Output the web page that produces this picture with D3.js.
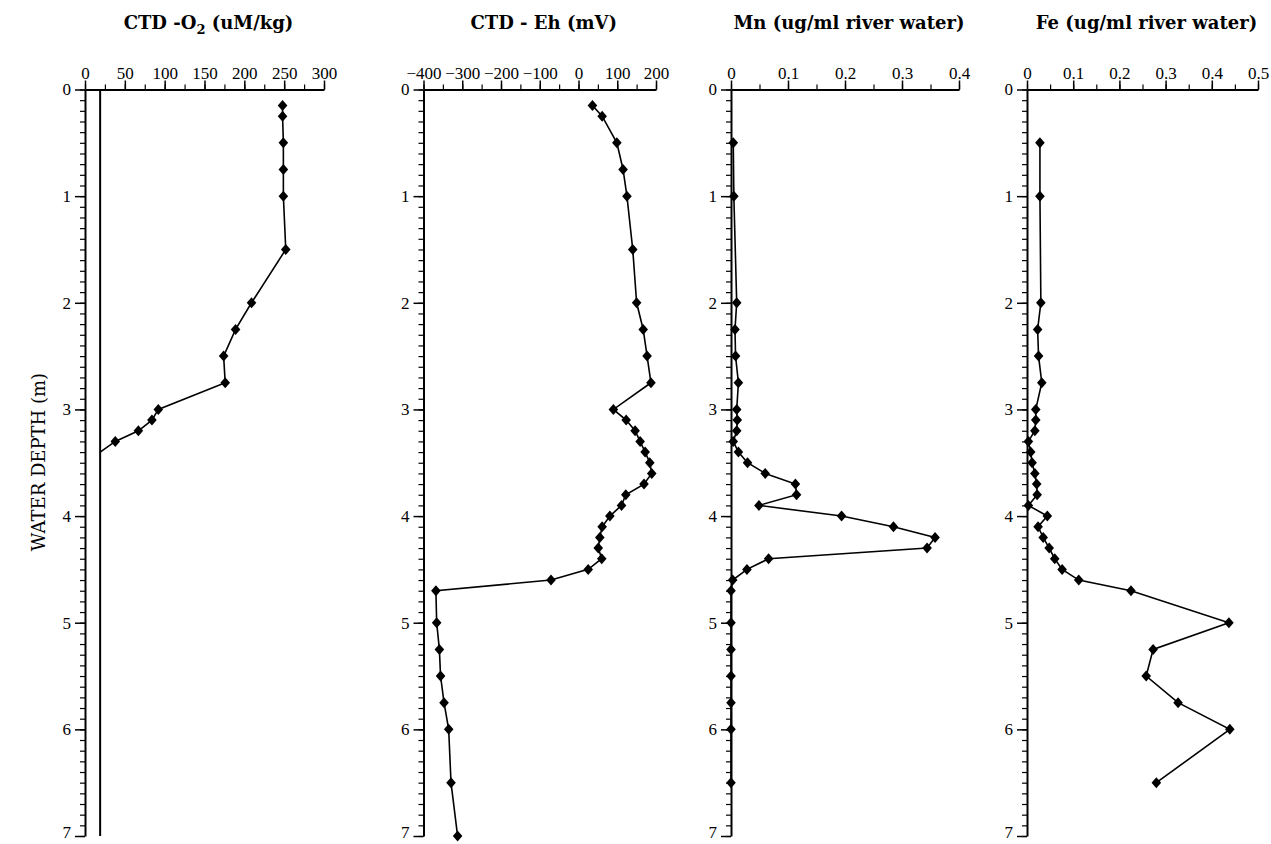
<!DOCTYPE html>
<html>
<head>
<meta charset="UTF-8">
<title>Water column profiles</title>
<style>
  body { margin: 0; background: #fff; }
  svg { display: block; }
  .tick text { font-family: "Liberation Serif", serif; font-size: 17px; fill: #000; }
  .title { font-family: "DejaVu Serif", serif; font-weight: bold; font-size: 18px; }
</style>
</head>
<body>
<svg id="chart"></svg>
<script src="https://d3js.org/d3.v7.min.js"></script>
<script>
// depth in metres
const o2Depth = [0.15, 0.25, 0.5, 0.75, 1.0, 1.5, 2.0, 2.25, 2.5, 2.75, 3.0, 3.1, 3.2, 3.3];
const o2Val   = [248, 248, 249, 249, 249, 252, 209, 189, 174, 176, 92, 84, 67, 38];
const o2Floor = 19;          // vertical reference line (uM/kg)
const o2FloorDepth = 3.4;    // where the profile meets it

const ehDepth = [0.15, 0.25, 0.5, 0.75, 1.0, 1.5, 2.0, 2.25, 2.5, 2.75, 3.0, 3.1, 3.2, 3.3, 3.4, 3.5, 3.6, 3.7, 3.8, 3.9,
                 4.0, 4.1, 4.2, 4.3, 4.4, 4.5, 4.6, 4.7, 5.0, 5.25, 5.5, 5.75, 6.0, 6.5, 7.0];
const ehVal   = [36, 61, 99, 115, 125, 140, 150, 167, 177, 187, 90, 123, 146, 159, 172, 184, 189, 169, 122, 111,
                 81, 61, 55, 51, 60, 25, -71, -368, -366, -359, -356, -347, -335, -329, -312];

const mnDepth = [0.5, 1.0, 2.0, 2.25, 2.5, 2.75, 3.0, 3.1, 3.2, 3.3, 3.4, 3.5, 3.6, 3.7, 3.8, 3.9,
                 4.0, 4.1, 4.2, 4.3, 4.4, 4.5, 4.6, 4.7, 5.0, 5.25, 5.5, 5.75, 6.0, 6.5];
const mnVal   = [0.004, 0.005, 0.010, 0.007, 0.008, 0.013, 0.010, 0.011, 0.010, 0.004, 0.013, 0.029, 0.060, 0.113, 0.115, 0.049,
                 0.194, 0.285, 0.358, 0.344, 0.066, 0.028, 0.003, 0.0, 0.0, 0.0, 0.0, 0.0, 0.0, 0.0];

const feDepth = [0.5, 1.0, 2.0, 2.25, 2.5, 2.75, 3.0, 3.1, 3.2, 3.3, 3.4, 3.5, 3.6, 3.7, 3.8, 3.9,
                 4.0, 4.1, 4.2, 4.3, 4.4, 4.5, 4.6, 4.7, 5.0, 5.25, 5.5, 5.75, 6.0, 6.5];
const feVal   = [0.028, 0.028, 0.030, 0.023, 0.025, 0.032, 0.019, 0.019, 0.017, 0.003, 0.008, 0.011, 0.017, 0.021, 0.022, 0.003,
                 0.044, 0.024, 0.035, 0.048, 0.060, 0.076, 0.112, 0.225, 0.437, 0.273, 0.258, 0.327, 0.439, 0.280];

const depthTicks = [0, 1, 2, 3, 4, 5, 6, 7];
const o2Ticks = [0, 50, 100, 150, 200, 250, 300];
const ehTicks = [-400, -300, -200, -100, 0, 100, 200];
const mnTicks = [0, 0.1, 0.2, 0.3, 0.4];
const feTicks = [0, 0.1, 0.2, 0.3, 0.4, 0.5];

const width = 1271, height = 844;
const svg = d3.select("#chart").attr("width", width).attr("height", height);
svg.append("rect").attr("width", width).attr("height", height).attr("fill", "#fff");

const y = d3.scaleLinear().domain([0, 7]).range([89.5, 836]);

const panels = [
  { title: ["CTD -O", "2", " (uM/kg)"], domain: [0, 300], range: [85, 324], ticks: o2Ticks, minor: 25,
    depth: o2Depth, vals: o2Val, fmt: d3.format("d") },
  { title: ["CTD - Eh (mV)"], domain: [-400, 200], range: [423.5, 656], ticks: ehTicks, minor: 50,
    depth: ehDepth, vals: ehVal, fmt: d3.format("d") },
  { title: ["Mn (ug/ml river water)"], domain: [0, 0.4], range: [731, 959], ticks: mnTicks, minor: 0.05,
    depth: mnDepth, vals: mnVal, fmt: d => d === 0 ? "0" : d3.format(".1f")(d) },
  { title: ["Fe (ug/ml river water)"], domain: [0, 0.5], range: [1027, 1258], ticks: feTicks, minor: 0.05,
    depth: feDepth, vals: feVal, fmt: d => d === 0 ? "0" : d3.format(".1f")(d) }
];

const diamond = "M0,-5.5L4.8,0L0,5.5L-4.8,0Z";
const minorDepth = d3.range(0, 70.5, 1).map(d => d / 10);

panels.forEach((p, i) => {
  const x = d3.scaleLinear().domain(p.domain).range(p.range);
  const g = svg.append("g");
  const x0 = p.range[0];

  // minor ticks, depth
  g.append("g")
    .attr("transform", `translate(${x0},0)`)
    .call(d3.axisLeft(y).tickValues(minorDepth).tickSize(5).tickFormat(""))
    .call(a => a.select(".domain").remove())
    .selectAll("line").attr("stroke-width", 1.2);

  // major depth axis
  g.append("g")
    .attr("transform", `translate(${x0},0)`)
    .call(d3.axisLeft(y).tickValues(depthTicks).tickSize(10).tickSizeOuter(0).tickPadding(4).tickFormat(d3.format("d")))
    .call(a => a.select(".domain").attr("stroke-width", 2))
    .call(a => a.selectAll(".tick line").attr("stroke-width", 1.5))
    .call(a => a.selectAll(".tick text").filter(d => d === 7).attr("dy", "0.1em"));

  // minor ticks, value
  const minorVals = d3.range(p.domain[0], p.domain[1] + p.minor / 2, p.minor);
  g.append("g")
    .attr("transform", `translate(0,${y(0)})`)
    .call(d3.axisTop(x).tickValues(minorVals).tickSize(5).tickFormat(""))
    .call(a => a.select(".domain").remove())
    .selectAll("line").attr("stroke-width", 1.2);

  // major value axis
  g.append("g")
    .attr("transform", `translate(0,${y(0)})`)
    .call(d3.axisTop(x).tickValues(p.ticks).tickSize(9).tickSizeOuter(0).tickPadding(2).tickFormat(p.fmt))
    .call(a => a.select(".domain").attr("stroke-width", 2))
    .call(a => a.selectAll(".tick line").attr("stroke-width", 1.5));

  // title
  const t = g.append("text").attr("class", "title")
    .attr("x", (p.range[0] + p.range[1]) / 2 + 4)
    .attr("y", 29)
    .attr("text-anchor", "middle");
  if (p.title.length === 3) {
    t.append("tspan").text(p.title[0]);
    t.append("tspan").attr("font-size", "13px").attr("dy", 5).text(p.title[1]);
    t.append("tspan").attr("dy", -5).text(p.title[2]);
  } else {
    t.text(p.title[0]);
  }

  const pts = p.depth.map((d, j) => ({ d: d, v: p.vals[j] }));
  const linePts = pts.slice();
  if (i === 0) {
    linePts.push({ d: o2FloorDepth, v: o2Floor });
    g.append("line")
      .attr("x1", x(o2Floor)).attr("x2", x(o2Floor))
      .attr("y1", y(0)).attr("y2", y(7))
      .attr("stroke", "#000").attr("stroke-width", 2);
  }

  g.append("path")
    .datum(linePts)
    .attr("fill", "none")
    .attr("stroke", "#000")
    .attr("stroke-width", 1.6)
    .attr("d", d3.line().x(d => x(d.v)).y(d => y(d.d)));

  g.selectAll(".pt")
    .data(pts)
    .enter()
    .append("path")
    .attr("class", "pt")
    .attr("d", diamond)
    .attr("transform", d => `translate(${x(d.v)},${y(d.d)})`)
    .attr("fill", "#000");
});

svg.append("text")
  .attr("transform", "translate(45,462) rotate(-90)")
  .attr("text-anchor", "middle")
  .attr("font-family", "DejaVu Serif, serif")
  .attr("font-size", "18px")
  .text("WATER DEPTH (m)");
</script>
</body>
</html>
